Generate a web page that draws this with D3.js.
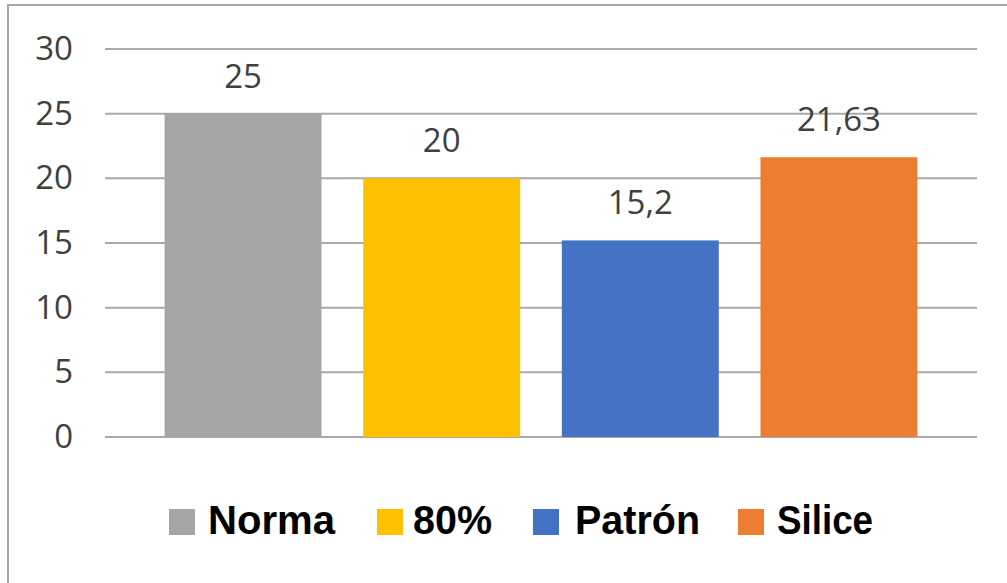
<!DOCTYPE html>
<html>
<head>
<meta charset="utf-8">
<script src="https://cdn.jsdelivr.net/npm/d3@7"></script>
<style>
  html, body { margin: 0; padding: 0; background: #fff; }
  svg { display: block; }
</style>
</head>
<body>
<svg id="chart" width="1007" height="583"></svg>
<script>
// Category names, their values and fill colours
const categories = ["Norma", "80%", "Patrón", "Silice"];
const values = [25, 20, 15.2, 21.63];
const valueLabels = ["25", "20", "15,2", "21,63"];
const colors = ["#a5a5a5", "#ffc000", "#4472c4", "#ed7d31"];
const yTicks = [0, 5, 10, 15, 20, 25, 30];

const svg = d3.select("#chart");

// Outer frame (top and left edges visible)
svg.append("path")
  .attr("d", "M8,583 L8,5 L1007,5")
  .attr("fill", "none")
  .attr("stroke", "#a6a6a6")
  .attr("stroke-width", 2);

const plot = { left: 105, right: 977, top: 49, bottom: 437 };

const x = d3.scaleBand()
  .domain(categories)
  .range([plot.left, plot.right])
  .paddingInner(0.21)
  .paddingOuter(0.3);

const y = d3.scaleLinear()
  .domain([0, 30])
  .range([plot.bottom, plot.top]);

// Horizontal gridlines
svg.append("g")
  .selectAll("line")
  .data(yTicks)
  .join("line")
  .attr("x1", plot.left)
  .attr("x2", plot.right)
  .attr("y1", d => y(d))
  .attr("y2", d => y(d))
  .attr("stroke", "#a9a9a9")
  .attr("stroke-width", 2);

// Y-axis tick labels
const yAxis = d3.axisLeft(y).tickValues(yTicks).tickSize(0).tickPadding(0);
const ya = svg.append("g")
  .attr("transform", `translate(73,0)`)
  .call(yAxis);
ya.select(".domain").remove();
ya.selectAll("text")
  .attr("font-family", "'Open Sans', 'Liberation Sans', sans-serif")
  .attr("font-size", 33)
  .attr("fill", "#404040");

// Bars
svg.append("g")
  .selectAll("rect")
  .data(categories)
  .join("rect")
  .attr("x", d => x(d))
  .attr("width", x.bandwidth())
  .attr("y", (d, i) => y(values[i]))
  .attr("height", (d, i) => y(0) - y(values[i]))
  .attr("fill", (d, i) => colors[i]);

// Value labels above each bar
svg.append("g")
  .selectAll("text")
  .data(categories)
  .join("text")
  .attr("x", d => x(d) + x.bandwidth() / 2)
  .attr("y", (d, i) => y(values[i]) - 26)
  .attr("text-anchor", "middle")
  .attr("font-family", "'Open Sans', 'Liberation Sans', sans-serif")
  .attr("font-size", 33)
  .attr("fill", "#404040")
  .text((d, i) => valueLabels[i]);

// Legend: swatch positions and condensed label widths
const legendX = [169, 377, 533, 738];
const legendTextDx = [39, 36, 42, 39];
const legendTextW = [127, 79, 125, 96];
const legend = svg.append("g")
  .selectAll("g")
  .data(categories)
  .join("g")
  .attr("transform", (d, i) => `translate(${legendX[i]},509)`);

legend.append("rect")
  .attr("width", 26)
  .attr("height", 26)
  .attr("fill", (d, i) => colors[i]);

legend.append("text")
  .attr("x", (d, i) => legendTextDx[i])
  .attr("y", 25)
  .attr("font-family", "'Liberation Sans', Arial, sans-serif")
  .attr("font-weight", "bold")
  .attr("font-size", 40)
  .attr("textLength", (d, i) => legendTextW[i])
  .attr("lengthAdjust", "spacingAndGlyphs")
  .attr("fill", "#000")
  .text(d => d);
</script>
</body>
</html>
